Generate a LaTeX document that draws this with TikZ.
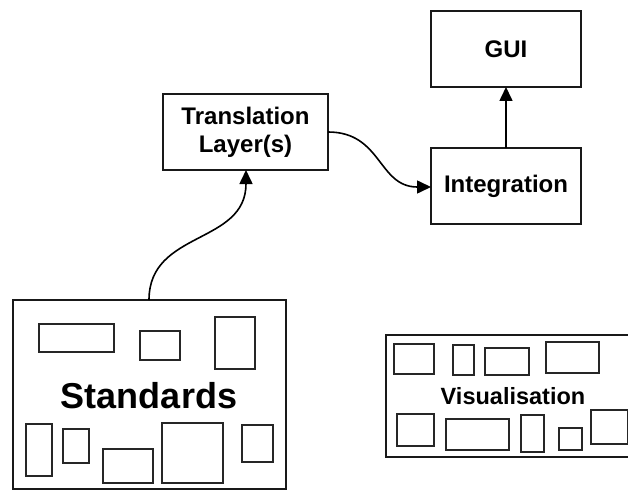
\documentclass[tikz,border=0pt]{standalone}
\usepackage{fontspec}
\setmainfont{Liberation Sans}
\usetikzlibrary{arrows.meta}
\tikzset{
  bigbox/.style={draw=black!90, line width=1.7pt},
  smallrect/.style={draw=black!85, line width=1.5pt},
  lbl/.style={font=\fontsize{24}{28}\selectfont\bfseries, align=center, inner sep=0pt},
  conn/.style={line width=1.6pt, -{Triangle[length=14pt,width=13pt]}},
}
\begin{document}
\begin{tikzpicture}[x=1pt,y=-1pt]
\useasboundingbox (0,0) rectangle (628,492);
\clip (0,0) rectangle (628,492);
% Translation box
\draw[bigbox] (163,94) rectangle (328,170);
\node[lbl] (trans) at (245.5,132) {Translation\\Layer(s)};
\coordinate (transB) at (246,170);
\coordinate (transR) at (328,132);
% GUI box
\draw[bigbox] (431,11) rectangle (581,87);
\node[lbl] (gui) at (506,49) {GUI};
\coordinate (guiB) at (506,87);
% Integration box
\draw[bigbox] (431,148) rectangle (581,224);
\node[lbl] (integ) at (506,186) {Integration};
\coordinate (integL) at (431,187);
\coordinate (integT) at (506,148);
% Standards box
\draw[bigbox] (13,300) rectangle (286,489);
\coordinate (stdT) at (149,300);
\draw[smallrect] (39,324) rectangle (114,352);
\draw[smallrect] (140,331) rectangle (180,360);
\draw[smallrect] (215,317) rectangle (255,369);
\draw[smallrect] (26,424) rectangle (52,476);
\draw[smallrect] (63,429) rectangle (89,463);
\draw[smallrect] (103,449) rectangle (153,483);
\draw[smallrect] (162,423) rectangle (223,483);
\draw[smallrect] (242,425) rectangle (273,462);
\node[font=\fontsize{36}{40}\selectfont\bfseries, inner sep=0pt] (std) at (149,396) {Standards};
% Visualisation box
\draw[bigbox] (386,335) rectangle (640,457);
\draw[smallrect] (394,344) rectangle (434,374);
\draw[smallrect] (453,345) rectangle (474,375);
\draw[smallrect] (485,348) rectangle (529,375);
\draw[smallrect] (546,342) rectangle (599,373);
\draw[smallrect] (397,414) rectangle (434,446);
\draw[smallrect] (446,419) rectangle (509,450);
\draw[smallrect] (521,415) rectangle (544,452);
\draw[smallrect] (559,428) rectangle (582,450);
\draw[smallrect] (591,410) rectangle (628,444);
\node[font=\fontsize{23.5}{27}\selectfont\bfseries, inner sep=0pt] (vis) at (513,396) {Visualisation};
% connectors
\draw[conn] (stdT) .. controls (149,230) and (246,245) .. (transB);
\draw[conn] (transR) .. controls (382,132) and (378,187) .. (integL);
\draw[conn] (integT) -- (guiB);
\end{tikzpicture}
\end{document}
